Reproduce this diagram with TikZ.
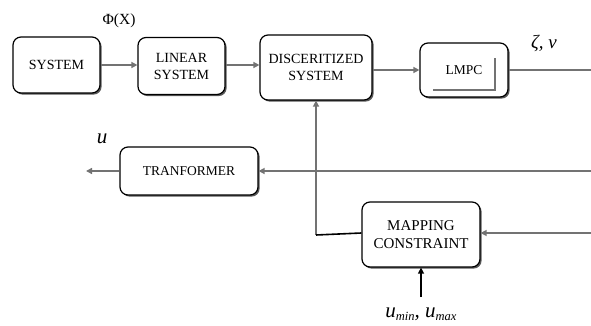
\documentclass[tikz,border=0pt]{standalone}
\usepackage{fontspec}
\setmainfont{Liberation Serif}
\usetikzlibrary{arrows.meta,shadows}
\begin{document}
\begin{tikzpicture}[x=1pt,y=-1pt,
  blk/.style={draw=black,line width=1.2pt,rounded corners=8pt,fill=white,
    align=center,inner sep=0pt,font=\fontsize{14}{17}\selectfont,
    drop shadow={shadow xshift=1.6pt,shadow yshift=-1.6pt,fill=black!65,opacity=1}},
  conn/.style={draw=black!55,line width=1.4pt},
  arr/.style={conn,-{Triangle[length=6pt,width=6pt]}},
  lbl/.style={inner sep=0pt,font=\fontsize{14}{17}\selectfont}]
\useasboundingbox (0,0) rectangle (591,326);
\node[blk,minimum width=87pt,minimum height=56pt] (sys) at (56.5,65) {SYSTEM};
\node[blk,minimum width=87pt,minimum height=57pt] (lin) at (181.5,66) {LINEAR\\SYSTEM};
\node[blk,minimum width=112pt,minimum height=65pt] (disc) at (316,67.5) {DISCERITIZED\\SYSTEM};
\node[blk,minimum width=88pt,minimum height=54pt,font=\fontsize{13.5}{16}\selectfont] (lmpc) at (464,70) {LMPC};
\node[blk,minimum width=138pt,minimum height=48pt,font=\fontsize{13.5}{16}\selectfont] (tr) at (189,171) {TRANFORMER};
\node[blk,minimum width=118pt,minimum height=65pt,font=\fontsize{15}{18}\selectfont] (map) at (421,234.5) {MAPPING\\CONSTRAINT};
% inner L in LMPC
\draw[conn,line width=1.4pt] (lmpc.center)++(-31,20) -- ++(62,0) -- ++(0,-32);
% labels
\node[lbl,font=\fontsize{15.5}{18}\selectfont] (phi) at (119,21) {Φ(X)};
\node[lbl,font=\fontsize{19}{22}\selectfont\itshape] (zn) at (544,43) {ζ, ν};
\node[lbl,font=\fontsize{21}{22}\selectfont\itshape] (u) at (102,139) {u};
\node[lbl,font=\fontsize{21}{22}\selectfont\itshape] (umm) at (421,314) {u\raisebox{-3.5pt}{\fontsize{12.5}{14}\selectfont min}, u\raisebox{-3.5pt}{\fontsize{12.5}{14}\selectfont max}};
% coordinates
\coordinate (zend) at (591,70);
\coordinate (tin) at (591,171);
\coordinate (uend) at (86,171);
\coordinate (min) at (591,233);
\coordinate (corner) at (316,235);
\coordinate (ubot) at (421,297);
% connectors
\draw[arr] (sys.east |- 0,65) -- (lin.west |- 0,65);
\draw[arr] (lin.east |- 0,65) -- (disc.west |- 0,65);
\draw[arr] (disc.east |- 0,70) -- (lmpc.west |- 0,70);
\draw[conn] (lmpc.east) -- (zend);
\draw[arr] (tin) -- (tr.east);
\draw[arr] (tr.west) -- (uend);
\draw[arr] (min) -- (map.east |- min);
\draw[arr] (corner) -- (disc.south);
\draw[black,line width=1.6pt] (corner) -- (map.west |- 0,233);
\draw[black,line width=1.3pt,-{Triangle[length=6pt,width=6pt]}] (ubot) -- (map.south);
\end{tikzpicture}
\end{document}
